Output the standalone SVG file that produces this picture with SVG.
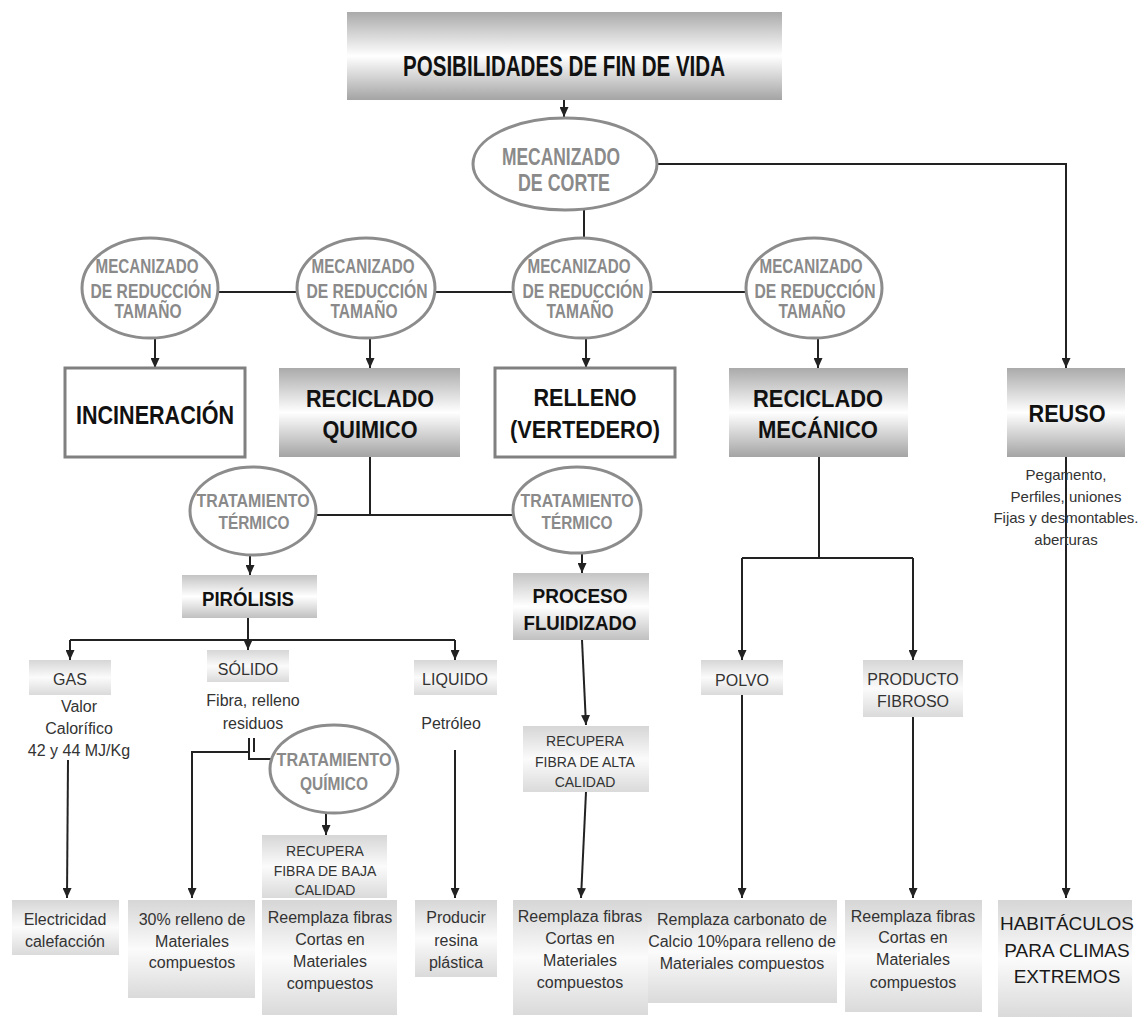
<svg xmlns="http://www.w3.org/2000/svg" width="1148" height="1017" viewBox="0 0 1148 1017">
<style>
.bg{fill:#ffffff}
.cn{fill:none;stroke:#222;stroke-width:2}
.el{fill:#fff;stroke:#8c8c8c;stroke-width:3}
.eb{fill:#fff;stroke:#808080;stroke-width:3}
.et{font-family:"Liberation Sans",Arial,sans-serif;font-weight:bold;fill:#8a8a8a;text-anchor:middle}
.bt{font-family:"Liberation Sans",Arial,sans-serif;font-weight:bold;fill:#111;text-anchor:middle}
.st{font-family:"Liberation Sans",Arial,sans-serif;font-size:16px;fill:#333;text-anchor:middle}
.s15{font-size:15px}
.s14{font-size:14px}
.hb{font-size:19px;fill:#1a1a1a}
</style>
<defs>
<linearGradient id="gD" x1="0" y1="0" x2="0" y2="1">
<stop offset="0" stop-color="#aaaaaa"/><stop offset="0.5" stop-color="#ffffff"/><stop offset="1" stop-color="#a4a4a4"/>
</linearGradient>
<linearGradient id="gM" x1="0" y1="0" x2="0" y2="1">
<stop offset="0" stop-color="#c4c4c4"/><stop offset="0.5" stop-color="#ffffff"/><stop offset="1" stop-color="#c0c0c0"/>
</linearGradient>
<linearGradient id="gL" x1="0" y1="0" x2="0" y2="1">
<stop offset="0" stop-color="#d6d6d6"/><stop offset="0.5" stop-color="#fbfbfb"/><stop offset="1" stop-color="#dadada"/>
</linearGradient>
<marker id="ah" viewBox="0 0 10 9" refX="10" refY="4.5" markerWidth="10" markerHeight="9" markerUnits="userSpaceOnUse" orient="auto">
<path d="M0,0 L10,4.5 L0,9 z" fill="#222"/>
</marker>
</defs>
<rect class="bg" x="0" y="0" width="1148" height="1017"/>

<g id="connectors">
<path class="cn" d="M564 100 V117" marker-end="url(#ah)"/>
<path class="cn" d="M657 164 H1066 V368" marker-end="url(#ah)"/>
<path class="cn" d="M584 210 V238"/>
<path class="cn" d="M219 292 H297 M435 292 H513 M650 292 H747"/>
<path class="cn" d="M155 338 V368" marker-end="url(#ah)"/>
<path class="cn" d="M370 338 V368" marker-end="url(#ah)"/>
<path class="cn" d="M586 338 V368" marker-end="url(#ah)"/>
<path class="cn" d="M818 338 V368" marker-end="url(#ah)"/>
<path class="cn" d="M370 457 V515 M317 515 H513"/>
<path class="cn" d="M250 555 V575" marker-end="url(#ah)"/>
<path class="cn" d="M582 552 V573" marker-end="url(#ah)"/>
<path class="cn" d="M248 618 V650" marker-end="url(#ah)"/>
<path class="cn" d="M70 640 H455"/>
<path class="cn" d="M70 640 V660" marker-end="url(#ah)"/>
<path class="cn" d="M455 640 V660" marker-end="url(#ah)"/>
<path class="cn" d="M68 760 L67 898" marker-end="url(#ah)"/>
<path class="cn" d="M249 738 V752 H192 V898" marker-end="url(#ah)"/>
<path class="cn" d="M254 738 V752 M249 752 V759 H272"/>
<path class="cn" d="M326 813 V835" marker-end="url(#ah)"/>
<path class="cn" d="M455 750 V898" marker-end="url(#ah)"/>
<path class="cn" d="M582 640 L586 725" marker-end="url(#ah)"/>
<path class="cn" d="M586 792 L581 898" marker-end="url(#ah)"/>
<path class="cn" d="M819 457 V558 M742 558 H913"/>
<path class="cn" d="M742 558 V660" marker-end="url(#ah)"/>
<path class="cn" d="M913 558 V660" marker-end="url(#ah)"/>
<path class="cn" d="M742 695 V898" marker-end="url(#ah)"/>
<path class="cn" d="M913 717 V898" marker-end="url(#ah)"/>
<path class="cn" d="M1066 457 V898" marker-end="url(#ah)"/>
</g>

<g id="titulo">
<rect x="347" y="12" width="435" height="88" fill="url(#gD)"/>
<text class="bt" x="564" y="76" font-size="30" textLength="322" lengthAdjust="spacingAndGlyphs">POSIBILIDADES DE FIN DE VIDA</text>
</g>

<g id="mec-corte">
<ellipse class="el" cx="565" cy="164" rx="92" ry="46"/>
<text class="et" font-size="23"><tspan x="561" y="165" textLength="118" lengthAdjust="spacingAndGlyphs">MECANIZADO</tspan><tspan x="564" y="191" textLength="92" lengthAdjust="spacingAndGlyphs">DE CORTE</tspan></text>
</g>

<g id="mec-red-1">
<ellipse class="el" cx="150" cy="288" rx="68" ry="50"/>
<text class="et" font-size="20"><tspan x="147" y="273" textLength="103" lengthAdjust="spacingAndGlyphs">MECANIZADO</tspan><tspan x="151" y="298" textLength="121" lengthAdjust="spacingAndGlyphs">DE REDUCCIÓN</tspan><tspan x="148" y="318" textLength="67" lengthAdjust="spacingAndGlyphs">TAMAÑO</tspan></text>
</g>
<g id="mec-red-2">
<ellipse class="el" cx="366" cy="288" rx="69" ry="50"/>
<text class="et" font-size="20"><tspan x="363" y="273" textLength="103" lengthAdjust="spacingAndGlyphs">MECANIZADO</tspan><tspan x="367" y="298" textLength="121" lengthAdjust="spacingAndGlyphs">DE REDUCCIÓN</tspan><tspan x="364" y="318" textLength="67" lengthAdjust="spacingAndGlyphs">TAMAÑO</tspan></text>
</g>
<g id="mec-red-3">
<ellipse class="el" cx="582" cy="288" rx="69" ry="50"/>
<text class="et" font-size="20"><tspan x="579" y="273" textLength="103" lengthAdjust="spacingAndGlyphs">MECANIZADO</tspan><tspan x="583" y="298" textLength="121" lengthAdjust="spacingAndGlyphs">DE REDUCCIÓN</tspan><tspan x="580" y="318" textLength="67" lengthAdjust="spacingAndGlyphs">TAMAÑO</tspan></text>
</g>
<g id="mec-red-4">
<ellipse class="el" cx="814" cy="288" rx="68" ry="50"/>
<text class="et" font-size="20"><tspan x="811" y="273" textLength="103" lengthAdjust="spacingAndGlyphs">MECANIZADO</tspan><tspan x="815" y="298" textLength="121" lengthAdjust="spacingAndGlyphs">DE REDUCCIÓN</tspan><tspan x="812" y="318" textLength="67" lengthAdjust="spacingAndGlyphs">TAMAÑO</tspan></text>
</g>

<g id="incineracion">
<rect class="eb" x="65" y="368" width="180" height="89"/>
<text class="bt" x="155" y="424" font-size="25" textLength="158" lengthAdjust="spacingAndGlyphs">INCINERACIÓN</text>
</g>
<g id="reciclado-quimico">
<rect x="279" y="368" width="181" height="89" fill="url(#gD)"/>
<text class="bt" font-size="24"><tspan x="370" y="407" textLength="128" lengthAdjust="spacingAndGlyphs">RECICLADO</tspan><tspan x="370" y="438" textLength="95" lengthAdjust="spacingAndGlyphs">QUIMICO</tspan></text>
</g>
<g id="relleno">
<rect class="eb" x="495" y="368" width="180" height="89"/>
<text class="bt" font-size="24"><tspan x="585" y="406" textLength="103" lengthAdjust="spacingAndGlyphs">RELLENO</tspan><tspan x="585" y="438" textLength="150" lengthAdjust="spacingAndGlyphs">(VERTEDERO)</tspan></text>
</g>
<g id="reciclado-mecanico">
<rect x="729" y="368" width="179" height="89" fill="url(#gD)"/>
<text class="bt" font-size="24"><tspan x="818" y="407" textLength="130" lengthAdjust="spacingAndGlyphs">RECICLADO</tspan><tspan x="818" y="438" textLength="120" lengthAdjust="spacingAndGlyphs">MECÁNICO</tspan></text>
</g>
<g id="reuso">
<rect x="1007" y="368" width="118" height="89" fill="url(#gD)"/>
<text class="bt" x="1067" y="422" font-size="24" textLength="77" lengthAdjust="spacingAndGlyphs">REUSO</text>
<text class="st s15"><tspan x="1066" y="480">Pegamento,</tspan><tspan x="1066" y="502">Perfiles, uniones</tspan><tspan x="1066" y="523">Fijas y desmontables.</tspan><tspan x="1066" y="545">aberturas</tspan></text>
</g>

<g id="trat-termico-1">
<ellipse class="el" cx="253" cy="511" rx="63" ry="44"/>
<text class="et" font-size="18"><tspan x="253" y="507" textLength="113" lengthAdjust="spacingAndGlyphs">TRATAMIENTO</tspan><tspan x="254" y="529" textLength="71" lengthAdjust="spacingAndGlyphs">TÉRMICO</tspan></text>
</g>
<g id="trat-termico-2">
<ellipse class="el" cx="577" cy="510" rx="64" ry="43"/>
<text class="et" font-size="18"><tspan x="577" y="507" textLength="113" lengthAdjust="spacingAndGlyphs">TRATAMIENTO</tspan><tspan x="577" y="529" textLength="71" lengthAdjust="spacingAndGlyphs">TÉRMICO</tspan></text>
</g>

<g id="pirolisis">
<rect x="182" y="575" width="135" height="43" fill="url(#gM)"/>
<text class="bt" x="248" y="606" font-size="21" textLength="92" lengthAdjust="spacingAndGlyphs">PIRÓLISIS</text>
</g>
<g id="proceso-fluidizado">
<rect x="513" y="573" width="136" height="67" fill="url(#gM)"/>
<text class="bt" font-size="21"><tspan x="580" y="603" textLength="95" lengthAdjust="spacingAndGlyphs">PROCESO</tspan><tspan x="580" y="630" textLength="113" lengthAdjust="spacingAndGlyphs">FLUIDIZADO</tspan></text>
</g>

<g id="gas">
<rect x="29" y="660" width="82" height="35" fill="url(#gL)"/>
<text class="st" x="70" y="685">GAS</text>
<text class="st"><tspan x="79" y="712">Valor</tspan><tspan x="79" y="734">Calorífico</tspan><tspan x="79" y="756">42 y 44 MJ/Kg</tspan></text>
</g>
<g id="solido">
<rect x="207" y="650" width="82" height="32" fill="url(#gL)"/>
<text class="st" x="248" y="675">SÓLIDO</text>
<text class="st"><tspan x="253" y="706">Fibra, relleno</tspan><tspan x="253" y="729">residuos</tspan></text>
</g>
<g id="liquido">
<rect x="414" y="660" width="83" height="35" fill="url(#gL)"/>
<text class="st" x="455" y="685">LIQUIDO</text>
<text class="st" x="451" y="729">Petróleo</text>
</g>
<g id="trat-quimico">
<ellipse class="el" cx="334" cy="769" rx="64" ry="44"/>
<text class="et" font-size="18"><tspan x="334" y="766" textLength="115" lengthAdjust="spacingAndGlyphs">TRATAMIENTO</tspan><tspan x="334" y="790" textLength="68" lengthAdjust="spacingAndGlyphs">QUÍMICO</tspan></text>
</g>
<g id="polvo">
<rect x="701" y="660" width="82" height="35" fill="url(#gL)"/>
<text class="st" x="742" y="686">POLVO</text>
</g>
<g id="producto-fibroso">
<rect x="863" y="660" width="100" height="57" fill="url(#gL)"/>
<text class="st"><tspan x="913" y="685">PRODUCTO</tspan><tspan x="913" y="707">FIBROSO</tspan></text>
</g>

<g id="recupera-alta">
<rect x="523" y="726" width="126" height="66" fill="url(#gL)"/>
<text class="st s14"><tspan x="585" y="746">RECUPERA</tspan><tspan x="585" y="767">FIBRA  DE ALTA</tspan><tspan x="585" y="787">CALIDAD</tspan></text>
</g>
<g id="recupera-baja">
<rect x="262" y="835" width="125" height="63" fill="url(#gL)"/>
<text class="st s14"><tspan x="325" y="856">RECUPERA</tspan><tspan x="325" y="876">FIBRA  DE BAJA</tspan><tspan x="325" y="895">CALIDAD</tspan></text>
</g>

<g id="electricidad">
<rect x="12" y="900" width="107" height="55" fill="url(#gL)"/>
<text class="st"><tspan x="65" y="925">Electricidad</tspan><tspan x="65" y="947">calefacción</tspan></text>
</g>
<g id="relleno-30">
<rect x="128" y="900" width="127" height="98" fill="url(#gL)"/>
<text class="st"><tspan x="192" y="925">30% relleno de</tspan><tspan x="192" y="947">Materiales</tspan><tspan x="192" y="968">compuestos</tspan></text>
</g>
<g id="reemplaza-1">
<rect x="262" y="900" width="135" height="115" fill="url(#gL)"/>
<text class="st"><tspan x="330" y="923">Reemplaza fibras</tspan><tspan x="330" y="945">Cortas en</tspan><tspan x="330" y="967">Materiales</tspan><tspan x="330" y="989">compuestos</tspan></text>
</g>
<g id="producir">
<rect x="415" y="900" width="82" height="77" fill="url(#gL)"/>
<text class="st"><tspan x="456" y="923">Producir</tspan><tspan x="456" y="946">resina</tspan><tspan x="456" y="968">plástica</tspan></text>
</g>
<g id="reemplaza-2">
<rect x="513" y="900" width="135" height="115" fill="url(#gL)"/>
<text class="st"><tspan x="580" y="922">Reemplaza fibras</tspan><tspan x="580" y="944">Cortas en</tspan><tspan x="580" y="966">Materiales</tspan><tspan x="580" y="988">compuestos</tspan></text>
</g>
<g id="remplaza-carbonato">
<rect x="648" y="900" width="189" height="103" fill="url(#gL)"/>
<text class="st"><tspan x="742" y="925">Remplaza carbonato de</tspan><tspan x="742" y="947">Calcio 10%para relleno de</tspan><tspan x="742" y="969">Materiales compuestos</tspan></text>
</g>
<g id="reemplaza-3">
<rect x="845" y="900" width="137" height="112" fill="url(#gL)"/>
<text class="st"><tspan x="913" y="922">Reemplaza fibras</tspan><tspan x="913" y="943">Cortas  en</tspan><tspan x="913" y="965">Materiales</tspan><tspan x="913" y="988">compuestos</tspan></text>
</g>
<g id="habitaculos">
<rect x="998" y="900" width="134" height="117" fill="url(#gL)"/>
<text class="st hb"><tspan x="1067" y="930">HABITÁCULOS</tspan><tspan x="1067" y="957">PARA CLIMAS</tspan><tspan x="1067" y="983">EXTREMOS</tspan></text>
</g>
</svg>
